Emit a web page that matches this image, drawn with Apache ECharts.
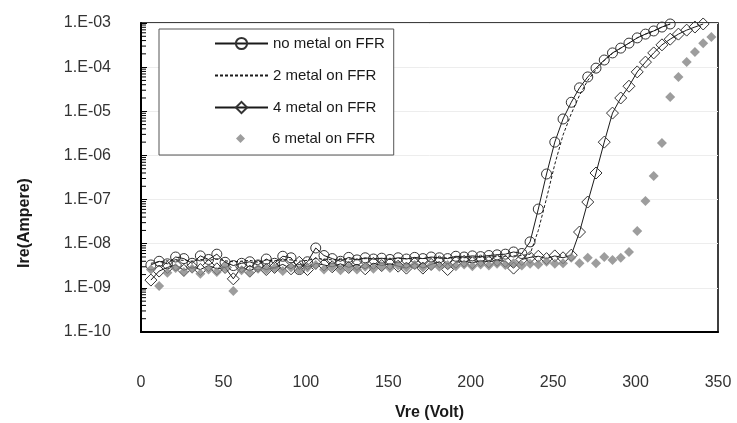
<!DOCTYPE html>
<html>
<head>
<meta charset="utf-8">
<script src="https://cdn.jsdelivr.net/npm/echarts@6/dist/echarts.min.js"></script>
<style>html,body{margin:0;padding:0;background:#fff}#c{width:737px;height:423px}</style>
</head>
<body>
<div id="c"></div>
<script>
// ---- data ----
const vA = [6,11,16,21,26,31,36,41,46,51,56,61,66,71,76,81,86,91,96,101,106,111,116,121,126,131,136,141,146,151,156,161,166,171,176,181,186,191,196,201,206,211,216,221,226,231,236,241,246,251,256,261,266,271,276,281,286,291,296,301,306,311,316,321];
const noMetal = [3.3e-9,4.0e-9,3.5e-9,5.0e-9,4.6e-9,3.6e-9,5.3e-9,4.4e-9,5.8e-9,3.8e-9,3.2e-9,3.6e-9,3.9e-9,3.3e-9,4.5e-9,3.6e-9,5.2e-9,4.8e-9,2.6e-9,3.9e-9,8.0e-9,5.4e-9,4.6e-9,4.0e-9,4.9e-9,4.3e-9,4.8e-9,4.5e-9,4.7e-9,4.4e-9,4.8e-9,4.5e-9,4.9e-9,4.6e-9,5.0e-9,4.8e-9,4.6e-9,5.2e-9,5.0e-9,5.3e-9,5.1e-9,5.4e-9,5.6e-9,5.8e-9,6.5e-9,6.0e-9,
  1.1e-8,6.1e-8,3.8e-7,2.0e-6,6.7e-6,1.6e-5,3.4e-5,6.0e-5,9.5e-5,1.45e-4,2.1e-4,2.7e-4,3.5e-4,4.6e-4,5.6e-4,6.6e-4,8.1e-4,9.5e-4];
const metal2 = [3.6e-9,3.9e-9,4.1e-9,4.3e-9,4.2e-9,4.0e-9,4.4e-9,4.2e-9,4.5e-9,4.1e-9,3.9e-9,4.0e-9,4.2e-9,3.8e-9,4.3e-9,4.1e-9,4.4e-9,4.3e-9,4.0e-9,4.2e-9,4.6e-9,4.5e-9,4.3e-9,4.4e-9,4.5e-9,4.4e-9,4.6e-9,4.5e-9,4.6e-9,4.5e-9,4.7e-9,4.6e-9,4.7e-9,4.6e-9,4.8e-9,4.7e-9,4.8e-9,4.9e-9,4.8e-9,5.0e-9,4.9e-9,5.0e-9,5.1e-9,5.2e-9,5.3e-9,5.4e-9,
  5.8e-9,2.0e-8,1.07e-7,6.3e-7,2.9e-6,8.8e-6,2.3e-5,5.0e-5,8.7e-5,1.4e-4,2.05e-4,2.7e-4,3.5e-4,4.6e-4,5.6e-4,6.6e-4,8.1e-4,9.5e-4];
const vB = [6,11,16,21,26,31,36,41,46,51,56,61,66,71,76,81,86,91,96,101,106,111,116,121,126,131,136,141,146,151,156,161,166,171,176,181,186,191,196,201,206,211,216,221,226,231,236,241,246,251,256,261,266,271,276,281,286,291,296,301,306,311,316,321,326,331,336,341];
const metal4 = [1.5e-9,2.4e-9,2.9e-9,3.3e-9,2.5e-9,3.0e-9,2.6e-9,3.2e-9,2.7e-9,2.9e-9,1.6e-9,3.0e-9,2.4e-9,3.1e-9,2.6e-9,2.9e-9,3.4e-9,2.7e-9,3.8e-9,2.6e-9,3.6e-9,3.3e-9,3.0e-9,3.5e-9,2.9e-9,3.4e-9,2.7e-9,3.6e-9,3.2e-9,3.5e-9,3.1e-9,2.8e-9,3.6e-9,2.8e-9,3.4e-9,3.9e-9,2.6e-9,3.8e-9,4.0e-9,3.7e-9,4.1e-9,3.9e-9,4.2e-9,4.0e-9,2.8e-9,4.4e-9,4.9e-9,5.2e-9,4.6e-9,5.3e-9,4.8e-9,5.5e-9,
  1.84e-8,8.8e-8,4.0e-7,2.0e-6,9.1e-6,2.0e-5,3.7e-5,7.8e-5,1.3e-4,2.1e-4,3.2e-4,4.3e-4,5.6e-4,6.9e-4,8.1e-4,9.5e-4];
const vC = [6,11,16,21,26,31,36,41,46,51,56,61,66,71,76,81,86,91,96,101,106,111,116,121,126,131,136,141,146,151,156,161,166,171,176,181,186,191,196,201,206,211,216,221,226,231,236,241,246,251,256,261,266,271,276,281,286,291,296,301,306,311,316,321,326,331,336,341,346];
const metal6 = [2.6e-9,1.1e-9,2.2e-9,2.8e-9,2.3e-9,2.7e-9,2.1e-9,2.6e-9,2.3e-9,2.9e-9,0.85e-9,2.5e-9,2.2e-9,2.7e-9,2.6e-9,2.8e-9,2.4e-9,2.9e-9,2.5e-9,2.9e-9,3.3e-9,2.6e-9,3.0e-9,2.5e-9,2.9e-9,2.6e-9,3.0e-9,2.7e-9,3.1e-9,2.8e-9,3.2e-9,2.9e-9,3.3e-9,2.9e-9,3.2e-9,3.0e-9,3.3e-9,3.1e-9,3.4e-9,3.1e-9,3.4e-9,3.2e-9,3.5e-9,3.3e-9,3.6e-9,3.2e-9,3.5e-9,3.4e-9,3.9e-9,3.5e-9,3.6e-9,4.8e-9,3.6e-9,4.8e-9,3.6e-9,5.0e-9,4.3e-9,4.8e-9,
  6.5e-9,1.95e-8,9.3e-8,3.4e-7,1.9e-6,2.1e-5,6.0e-5,1.3e-4,2.2e-4,3.5e-4,4.8e-4];
const seriesNames = ['no metal on FFR','2 metal on FFR','4 metal on FFR','6 metal on FFR'];
const xTicks = [0,50,100,150,200,250,300,350];
const yTickLabels = ['1.E-10','1.E-09','1.E-08','1.E-07','1.E-06','1.E-05','1.E-04','1.E-03'];
const minorDecades = [-10,-9,-8,-7,-6,-5,-4];
const minorMults = [2,3,4,5,6,7,8,9];

const pairs = (xs, ys) => ys.map((y, i) => [xs[i], y]);
const minorData = [];
minorDecades.forEach(e => minorMults.forEach(m => minorData.push([0, m * Math.pow(10, e)])));

const FONT = 'Liberation Sans, Arial, sans-serif';
// legend icon: small diamond centred in a 53x9 box (corner move-tos only set the box size)
const smallDiamondIcon = 'path://M0,0 M53,9 M26.5,0 L31,4.5 L26.5,9 L22,4.5 Z';
const chart = echarts.init(document.getElementById('c'), null, {renderer: 'canvas'});
chart.setOption({
  animation: false,
  backgroundColor: '#ffffff',
  grid: {left: 141, right: 19, top: 23, bottom: 91, show: true, borderColor: '#000', borderWidth: 1.5,
    backgroundColor: 'transparent', containLabel: false, outerBoundsMode: 'none'},
  legend: [{
    data: [
      {name: seriesNames[0]},
      {name: seriesNames[1], itemStyle: {color: 'rgba(0,0,0,0)', borderColor: 'rgba(0,0,0,0)', borderWidth: 0}},
      {name: seriesNames[2]}
    ],
    orient: 'vertical', left: 159, top: 29,
    padding: [7, 9, 40, 55],
    itemWidth: 53, itemHeight: 14, itemGap: 17,
    borderColor: '#555', borderWidth: 1, backgroundColor: '#fff',
    selectedMode: false,
    textStyle: {fontSize: 15, fontFamily: FONT, color: '#1a1a1a'}
  }, {
    data: [{name: seriesNames[3], icon: smallDiamondIcon}],
    orient: 'vertical', left: 159, top: 131,
    padding: [0, 0, 0, 55],
    itemWidth: 53, itemHeight: 9,
    selectedMode: false,
    textStyle: {fontSize: 15, fontFamily: FONT, color: '#1a1a1a'}
  }],
  xAxis: {
    type: 'value', min: xTicks[0], max: xTicks[xTicks.length - 1], interval: 50,
    axisLine: {show: true, onZero: false, lineStyle: {color: '#000', width: 2}},
    axisTick: {show: false}, splitLine: {show: false},
    axisLabel: {margin: 43, fontSize: 16, fontFamily: FONT, color: '#333'},
    name: 'Vre (Volt)', nameLocation: 'middle', nameGap: 73,
    nameTextStyle: {fontSize: 16, fontWeight: 'bold', fontFamily: FONT, color: '#1a1a1a'}
  },
  yAxis: {
    type: 'log', logBase: 10, min: 1e-10, max: 1e-3, splitNumber: 7,
    axisLine: {show: true, lineStyle: {color: '#000', width: 2}},
    axisTick: {show: true, inside: true, length: 6, lineStyle: {color: '#000', width: 1}},
    splitLine: {show: true, lineStyle: {color: '#ededed', width: 1}},
    axisLabel: {margin: 30, fontSize: 16, fontFamily: FONT, color: '#333',
      formatter: v => yTickLabels[Math.round(Math.log10(v)) + 10]}
  },
  graphic: [{
    type: 'text', x: 25, y: 223, rotation: Math.PI / 2,
    style: {text: 'Ire(Ampere)', font: 'bold 16px ' + FONT, fill: '#1a1a1a', textAlign: 'center', textVerticalAlign: 'middle'}
  }],
  series: [
    {
      name: seriesNames[0], type: 'line', data: pairs(vA, noMetal),
      symbol: 'circle', symbolSize: 10, showSymbol: true,
      lineStyle: {color: '#1a1a1a', width: 1},
      itemStyle: {color: 'rgba(255,255,255,0)', borderColor: '#333', borderWidth: 1},
      z: 2
    },
    {
      name: seriesNames[1], type: 'line', data: pairs(vA, metal2),
      symbol: 'none', showSymbol: false,
      lineStyle: {color: '#1a1a1a', width: 1, type: [3, 2]},
      itemStyle: {color: '#1a1a1a'},
      z: 3
    },
    {
      name: seriesNames[2], type: 'line', data: pairs(vB, metal4),
      symbol: 'diamond', symbolSize: 12, showSymbol: true,
      lineStyle: {color: '#1a1a1a', width: 1},
      itemStyle: {color: 'rgba(255,255,255,0)', borderColor: '#333', borderWidth: 1},
      z: 4
    },
    {
      name: seriesNames[3], type: 'scatter', data: pairs(vC, metal6),
      symbol: 'diamond', symbolSize: 10,
      itemStyle: {color: '#858585'},
      z: 5
    },
    {
      name: 'minorTicks', type: 'custom', data: minorData, silent: true, z: 10, clip: false,
      renderItem: (params, api) => {
        const p = api.coord([0, api.value(1)]);
        return {type: 'line', shape: {x1: p[0], y1: p[1], x2: p[0] + 5, y2: p[1]}, style: {stroke: '#000', lineWidth: 1}};
      }
    }
  ]
});
</script>
</body>
</html>
